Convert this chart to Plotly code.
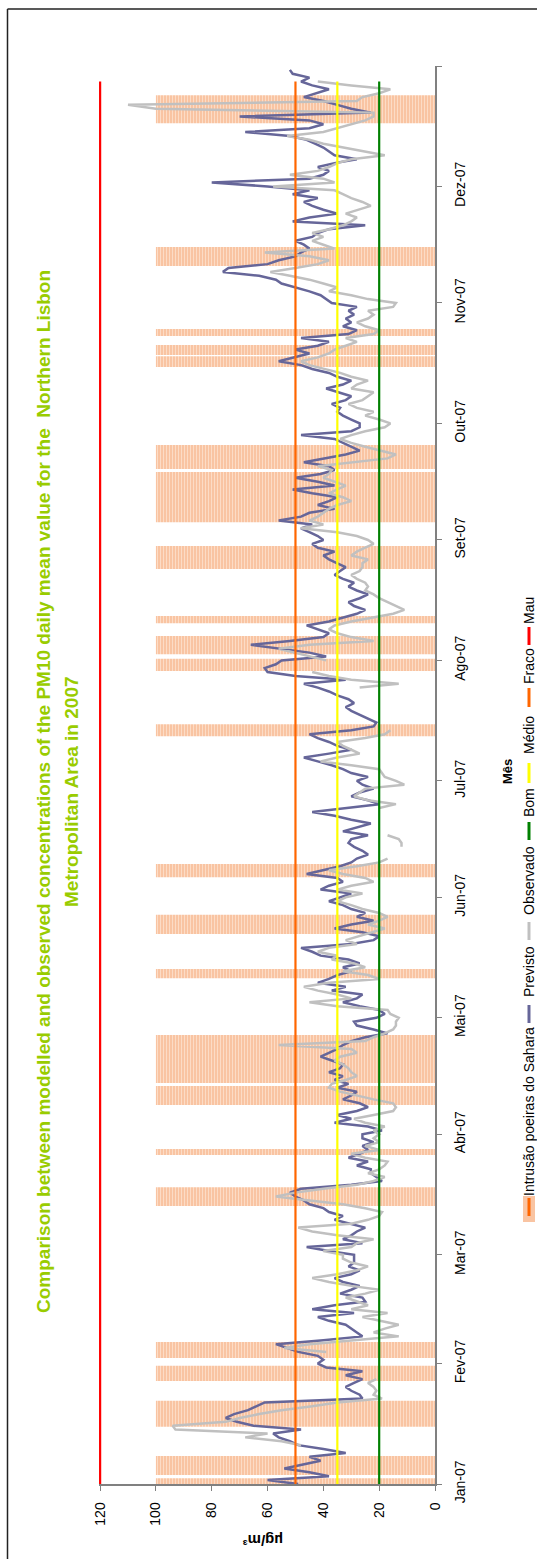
import plotly.graph_objects as go
import pandas as pd

# ---------------- data ----------------
month_tick_dates = ["2007-01-01", "2007-02-01", "2007-03-01", "2007-04-01", "2007-05-01", "2007-06-01",
                    "2007-07-01", "2007-08-01", "2007-09-01", "2007-10-01", "2007-11-01", "2007-12-01",
                    "2008-01-01"]
month_tick_labels = ["Jan-07", "Fev-07", "Mar-07", "Abr-07", "Mai-07", "Jun-07", "Jul-07", "Ago-07",
                     "Set-07", "Out-07", "Nov-07", "Dez-07", ""]
value_ticks = [0, 20, 40, 60, 80, 100, 120]

# Sahara dust intrusion episodes
sahara_start = ["2007-01-01 00:00", "2007-01-03 07:00", "2007-01-15 17:00", "2007-01-27 12:00",
                "2007-02-02 10:00", "2007-03-13 14:00", "2007-03-26 17:00", "2007-04-08 14:00",
                "2007-04-14 05:00", "2007-05-11 05:00", "2007-05-22 14:00", "2007-06-06 05:00",
                "2007-07-12 12:00", "2007-07-29 07:00", "2007-08-02 14:00", "2007-08-10 14:00",
                "2007-08-24 12:00", "2007-09-05 14:00", "2007-09-19 07:00", "2007-10-15 12:00",
                "2007-10-18 14:00", "2007-10-23 12:00", "2007-11-10 12:00", "2007-12-17 07:00"]
sahara_end = ["2007-01-02 12:00", "2007-01-08 05:00", "2007-01-22 10:00", "2007-01-31 10:00",
              "2007-02-06 14:00", "2007-03-18 10:00", "2007-03-28 05:00", "2007-04-13 10:00",
              "2007-04-26 14:00", "2007-05-13 14:00", "2007-05-27 12:00", "2007-06-09 14:00",
              "2007-07-15 14:00", "2007-08-01 10:00", "2007-08-07 07:00", "2007-08-12 10:00",
              "2007-08-30 10:00", "2007-09-18 12:00", "2007-09-25 10:00", "2007-10-18 07:00",
              "2007-10-21 05:00", "2007-10-25 07:00", "2007-11-15 10:00", "2007-12-24 12:00"]
sahara_value = 100

N = None
# Previsto (modelled) daily values, ug/m3
previsto_jan = [49, 60, 38, 45, 54, 47, 41, 45, 32, 40, 49, 52, 56, 58, 48, 65, 71, 75, 72, 67, 64, 61,
                26, 27, 30, 32, 29, 26, 32, 26, 39]
previsto_fev = [42, 40, 42, 49, 53, 57, 40, 26, 28, 30, 32, 38, 42, 29, 44, 36, 25, 26, 34, 30, 27, 33,
                36, 30, 27, 31, 29, 29]
previsto_mar = [29, 38, 46, 26, 33, 30, 28, 25, 31, 36, 33, 38, 40, 45, 47, 50, 52, 48, 30, 19, 21, 23,
                23, 28, 24, 31, 27, 24, 26, 22, 26]
previsto_abr = [26, 19, 24, 36, 30, 35, 28, 24, 27, 33, 30, 28, 35, 31, 36, 33, 38, 34, 33, 37, 41, 38,
                35, 33, 30, 25, 17, 22, 28, 29]
previsto_mai = [21, 18, 20, 27, 33, 28, 26, 37, 32, 42, 38, 35, 30, 33, 27, 31, 41, 44, 48, 30, 22, 20,
                26, 36, 30, 22, 28, 25, 30, 33, 38]
previsto_jun = [34, 30, 41, 38, 33, 35, 46, 40, 34, 30, 28, 24, 26, 29, 31, 30, 24, 33, 28, 23, 30, 36,
                44, 32, 20, 24, 30, 27, 22, 26]
previsto_jul = [28, 24, 30, 33, 37, 42, 47, 38, 30, 35, 38, 42, 45, 30, 22, 21, 24, 27, 30, 32, 29, 31,
                35, 38, 42, 47, 32, 50, 60, 61, 57]
previsto_ago = [55, 39, 45, 55, 66, 52, 40, 38, 42, 46, 38, 33, 28, 25, 29, 31, 27, 24, 28, 31, 29, 33,
                36, 34, 32, 35, 38, 40, 36, 42, 44]
previsto_set = [40, 42, 45, 48, 44, 56, 48, 45, 36, 42, 38, 35, 44, 51, 36, 42, 50, 41, 36, 38, 47, 40,
                32, 27, 30, 33, 36, 48, 30, 27]
previsto_out = [27, 30, 33, 35, 34, 37, 32, 30, 35, 39, 33, 30, 35, 38, 44, 48, 56, 51, 45, 50, 42, 38,
                48, 31, 28, 33, 30, 32, 29, 31, 28]
previsto_nov = [37, 39, 41, 45, 50, 55, 57, 63, 76, 74, 60, 56, 50, 48, 45, 47, 50, 44, 42, 38, 25, 51,
                45, 35, 40, 44, 47, 42, 51, 45]
previsto_dez = [60, 80, 45, 40, 38, 42, 36, 28, 36, 38, 40, 43, 46, 52, 68, 45, 40, 45, 70, 23, 30, 35,
                40, 47, 42, 38, 44, 48, 45, 51, 52]

# Observado (measured) daily values, ug/m3 (None = no data)
observado_jan = [N, N, N, N, N, N, N, N, N, N, 48, 55, 68, 60, 93, 94, 75, 70, 63, 55, 44, 35,
                 19, 22, 21, 22, 24, 21, N, N, N]
observado_fev = [N, N, N, 39, 54, 45, 30, 13, 22, 18, 13, 20, 26, 17, 30, 24, 28, 32, 25, 20, 30, 38,
                 44, 35, 28, 24, 30, 33]
observado_mar = [33, 40, 30, 28, 22, 35, 44, 49, 30, 24, 20, 19, 25, 33, 45, 57, 50, 40, 28, 22, 18, 24,
                 20, 18, 17, 25, 30, 20, 25, 20, 22]
observado_abr = [20, 22, 18, 25, 29, 22, 15, 14, 15, 22, 28, 34, 38, 37, 32, 28, 30, 31, 33, 36, 34, 28,
                 30, 56, 25, 22, 18, 15, 14, 14]
observado_mai = [13, 16, 17, 35, 45, 30, 35, 42, 47, 38, 20, 24, 33, 25, 29, 37, 35, 42, 38, 28, 32, 27,
                 22, 18, 24, 20, 17, 20, 26, 30, 35]
observado_jun = [32, 26, 35, 30, 22, 25, 33, 38, 28, 20, 17, N, N, 12, 12, 13, 17, N, N, N, N, N,
                 N, 20, 14, 24, 29, 27, 25, 11]
observado_jul = [14, 18, 19, 20, 30, 41, 35, 27, 30, 33, 35, 25, 18, 16, N, N, N, N, N, N, N, N,
                 N, N, 27, 13, 30, 38, 44, N, N]
observado_ago = [39, 45, 50, 56, 45, 22, 30, 35, 38, 36, 30, 22, 15, 11, 14, 17, 20, 22, 25, 24, 25, 28,
                 30, 27, 26, 26, 24, 30, 28, 25, 22]
observado_set = [24, 28, 35, 48, 40, 45, 42, 40, 38, 35, 30, 33, 38, 35, 32, 36, 40, 38, 37, 42, 29, 17,
                 14, 20, 25, 30, 34, 30, 25, 18]
observado_out = [16, 20, 25, 22, 28, 31, 26, 24, 22, 30, 28, 24, 30, 34, 40, 45, 48, 42, 38, 36, 32, 28,
                 32, 22, 20, 25, 28, 24, 22, 24, 15]
observado_nov = [14, 24, 30, 38, 35, 40, 45, 52, 59, 50, 42, 38, 45, 61, 36, 40, 44, 40, 44, 38, 33, 30,
                 28, 32, 27, 23, 26, 30, 33, 36]
observado_dez = [58, 36, 40, 52, 42, 38, 35, 30, 18, 25, 33, 40, 45, 53, 40, 35, 30, 25, 22, 22, 100, 110,
                 28, 26, 20, 16, 30, 42, N, N, N]

# limit values (ug/m3)
limit_dates = ["2007-01-01", "2007-12-28"]
bom_value = 20
medio_value = 35
fraco_value = 50
mau_value = 120

title_line1 = "Comparison between modelled and observed concentrations of the PM10 daily mean value for the  Northern Lisbon"
title_line2 = "Metropolitan Area in 2007"
legend_names = ["Intrusão poeiras do Sahara", "Previsto", "Observado", "Bom", "Médio", "Fraco", "Mau"]

# ---------------- build ----------------
previsto = (previsto_jan + previsto_fev + previsto_mar + previsto_abr + previsto_mai + previsto_jun +
            previsto_jul + previsto_ago + previsto_set + previsto_out + previsto_nov + previsto_dez)
observado = (observado_jan + observado_fev + observado_mar + observado_abr + observado_mai + observado_jun +
             observado_jul + observado_ago + observado_set + observado_out + observado_nov + observado_dez)
days = pd.date_range("2007-01-01", periods=len(previsto), freq="D")

C_PREV = "#666699"
C_OBS = "#C0C0C0"
C_BOM = "#008000"
C_MED = "#FFFF00"
C_FRACO = "#FF6600"
C_MAU = "#FF0000"
C_PEACH = "#F9C4A2"
C_TITLE = "#99CC00"
FONT = "Arial, Liberation Sans, sans-serif"

W, H = 537, 1559
L, R, T, B = 99, 435, 66, 1484   # plot-area pixel edges


def px_x(px):
    return (px - L) / (R - L)


def px_y(py):
    return (B - py) / (B - T)


fig = go.Figure()

st = pd.to_datetime(sahara_start)
en = pd.to_datetime(sahara_end)
mids = st + (en - st) / 2
widths = (en - st).total_seconds() * 1000.0
fig.add_trace(go.Bar(
    y=mids.strftime("%Y-%m-%d %H:%M:%S"), x=[sahara_value] * len(st), base=0,
    orientation="h", width=list(widths), name=legend_names[0],
    marker=dict(color=C_PEACH, line=dict(width=0),
                pattern=dict(shape="|", fgcolor="#FFF3EA", bgcolor=C_PEACH, size=3, solidity=0.35)),
    showlegend=False, hoverinfo="skip"))

fig.add_trace(go.Scatter(x=previsto, y=days, mode="lines", name=legend_names[1],
                         line=dict(color=C_PREV, width=2.5), connectgaps=False, showlegend=False))
fig.add_trace(go.Scatter(x=observado, y=days, mode="lines", name=legend_names[2],
                         line=dict(color=C_OBS, width=2.5), connectgaps=False, showlegend=False))

for val, col, nm in [(bom_value, C_BOM, legend_names[3]), (medio_value, C_MED, legend_names[4]),
                     (fraco_value, C_FRACO, legend_names[5]), (mau_value, C_MAU, legend_names[6])]:
    fig.add_trace(go.Scatter(x=[val] * len(limit_dates), y=limit_dates, mode="lines", name=nm,
                             line=dict(color=col, width=2.2), showlegend=False))

annotations = []
shapes = []

# title (rotated)
annotations.append(dict(text="<b>%s</b>" % title_line1, x=px_x(43), y=px_y(792), xref="paper", yref="paper",
                        textangle=-90, showarrow=False, xanchor="center", yanchor="middle",
                        font=dict(family=FONT, size=19, color=C_TITLE)))
annotations.append(dict(text="<b>%s</b>" % title_line2, x=px_x(71), y=px_y(792), xref="paper", yref="paper",
                        textangle=-90, showarrow=False, xanchor="center", yanchor="middle",
                        font=dict(family=FONT, size=19, color=C_TITLE)))
# axis titles
annotations.append(dict(text="<b>µg/m³</b>", x=px_x(263), y=px_y(1541), xref="paper", yref="paper",
                        textangle=180, showarrow=False, xanchor="center", yanchor="middle",
                        font=dict(family=FONT, size=15, color="#000000")))
annotations.append(dict(text="<b>Mês</b>", x=px_x(507), y=px_y(771), xref="paper", yref="paper",
                        textangle=-90, showarrow=False, xanchor="center", yanchor="middle",
                        font=dict(family=FONT, size=13, color="#000000")))

# legend (rotated) : marker y-range, text centre y
leg_x = 529
leg_items = [
    ("box", C_FRACO, (1200, 1222), 1112),
    ("line", C_PREV, (1005, 1023), 972),
    ("line", C_OBS, (922, 940), 881),
    ("line", C_BOM, (822, 840), 803),
    ("line", C_MED, (763, 783), 735),
    ("line", C_FRACO, (688, 707), 666),
    ("line", C_MAU, (627, 645), 611),
]
for (kind, col, (y0, y1), ty), name in zip(leg_items, legend_names):
    if kind == "box":
        shapes.append(dict(type="rect", xref="paper", yref="paper", x0=px_x(leg_x - 6), x1=px_x(leg_x + 6),
                           y0=px_y(y1), y1=px_y(y0 - 4), fillcolor=C_PEACH, line=dict(width=0), layer="above"))
        shapes.append(dict(type="line", xref="paper", yref="paper", x0=px_x(leg_x), x1=px_x(leg_x),
                           y0=px_y(y1 - 6), y1=px_y(y0 - 2), line=dict(color=col, width=3), layer="above"))
    else:
        shapes.append(dict(type="line", xref="paper", yref="paper", x0=px_x(leg_x), x1=px_x(leg_x),
                           y0=px_y(y1), y1=px_y(y0), line=dict(color=col, width=3), layer="above"))
    annotations.append(dict(text=name, x=px_x(leg_x), y=px_y(ty), xref="paper", yref="paper",
                            textangle=-90, showarrow=False, xanchor="center", yanchor="middle",
                            font=dict(family=FONT, size=14, color="#000000")))

# chart border (left and top visible)
shapes.append(dict(type="line", xref="paper", yref="paper", x0=px_x(7.5), x1=px_x(7.5),
                   y0=px_y(9), y1=px_y(1600), line=dict(color="#222222", width=1.5)))
shapes.append(dict(type="line", xref="paper", yref="paper", x0=px_x(7.5), x1=px_x(560),
                   y0=px_y(9), y1=px_y(9), line=dict(color="#222222", width=1.5)))

fig.update_layout(
    width=W, height=H,
    margin=dict(l=L, r=W - R, t=T, b=H - B, pad=0),
    paper_bgcolor="white", plot_bgcolor="white",
    barmode="overlay", showlegend=False,
    annotations=annotations, shapes=shapes,
    font=dict(family=FONT, size=14, color="#000000"),
    xaxis=dict(range=[120.4, 0], tickmode="array", tickvals=value_ticks, tickangle=-90,
               ticks="outside", ticklen=5, tickcolor="#808080", showline=True, linecolor="#808080",
               linewidth=1.5, showgrid=False, zeroline=False, automargin=False,
               ticklabelstandoff=6, tickfont=dict(family=FONT, size=14, color="#000000")),
    yaxis=dict(type="date", range=["2007-01-01", "2008-01-01"], side="right", tickmode="array",
               tickvals=month_tick_dates, ticktext=month_tick_labels, tickangle=-90,
               ticks="outside", ticklen=5, tickcolor="#808080", showline=True, linecolor="#808080",
               linewidth=1.5, showgrid=False, zeroline=False, automargin=False,
               ticklabelstandoff=6, tickfont=dict(family=FONT, size=14, color="#000000")),
)

fig.write_html("out.html", config={"displayModeBar": False},
               post_script="document.body.style.margin='0px';document.body.style.overflow='hidden';")
